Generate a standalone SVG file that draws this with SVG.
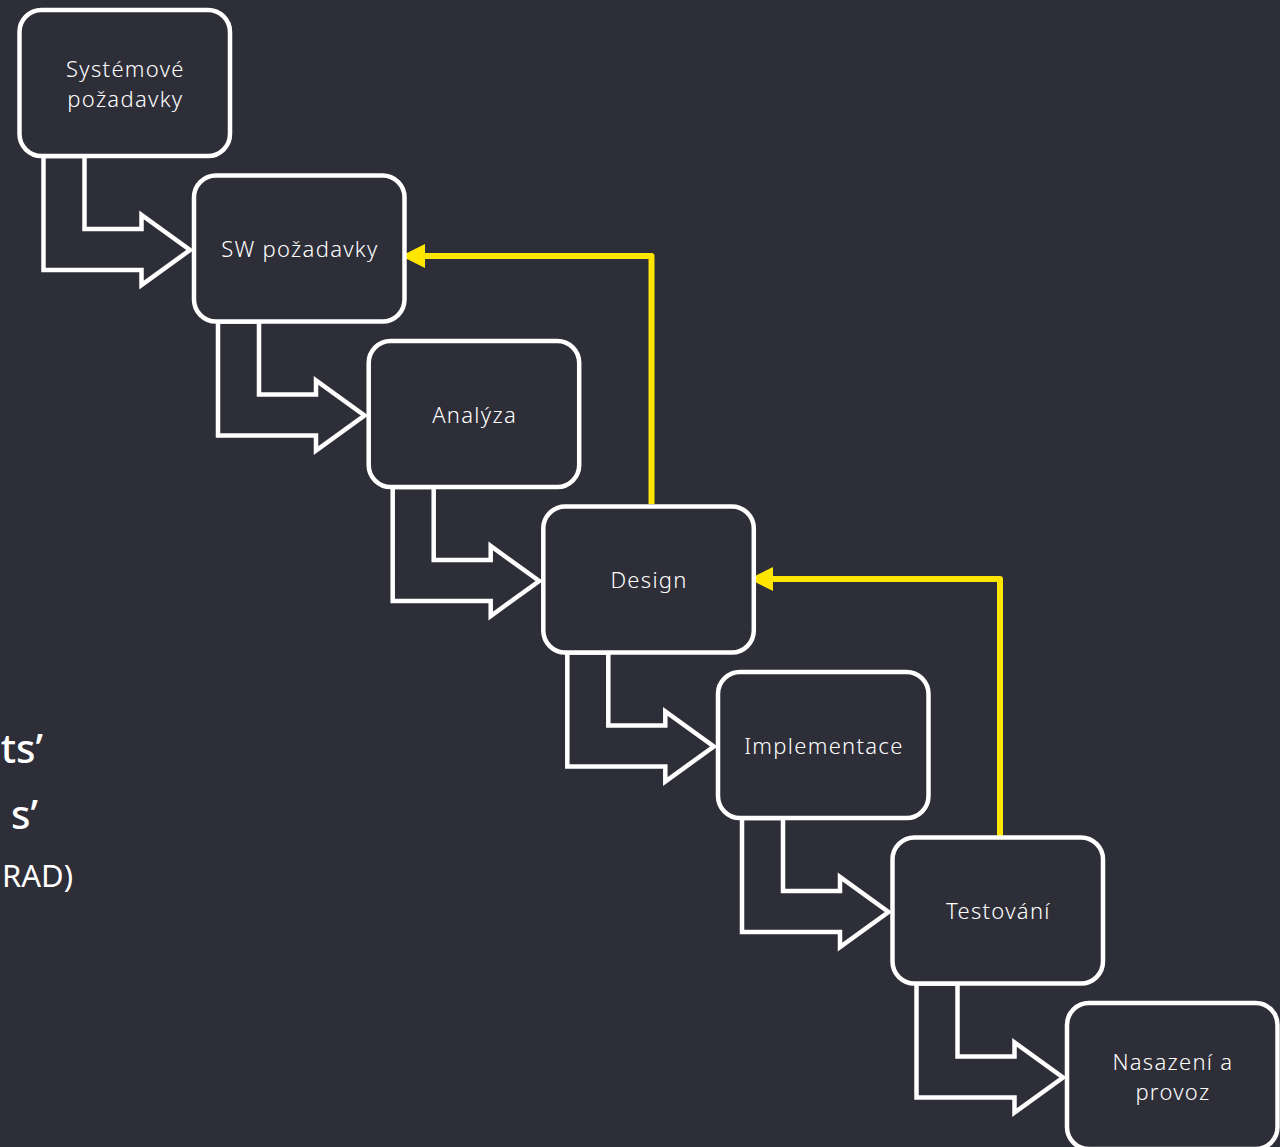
<svg xmlns="http://www.w3.org/2000/svg" width="1280" height="1147" viewBox="0 0 1280 1147">
<defs>
<style>
.bg{fill:#2e2e38}
.box{fill:#2e2e38;stroke:#ffffff;stroke-width:4.5}
.flow{fill:none;stroke:#ffffff;stroke-width:4.5;stroke-linejoin:miter}
.fb{fill:none;stroke:#ffe600;stroke-width:6;stroke-linejoin:round}
.lbl{font-family:"Noto Sans","Open Sans",sans-serif;font-size:22px;font-weight:300;fill:#ffffff;text-anchor:middle;letter-spacing:1.3px}
.side{font-family:"Noto Sans","Open Sans",sans-serif;fill:#ffffff;text-anchor:end}
</style>
<marker id="ah" viewBox="0 0 24 24" refX="23" refY="12" markerWidth="24" markerHeight="24" markerUnits="userSpaceOnUse" orient="auto">
<path d="M0,0 L24,12 L0,24 Z" fill="#ffe600"/>
</marker>
</defs>
<rect class="bg" x="0" y="0" width="1280" height="1147"/>
<g id="side-text">
<text class="side" x="43" y="763" font-size="40" font-weight="500">ts’</text>
<text class="side" x="38" y="829" font-size="40" font-weight="500">s’</text>
<text class="side" x="73" y="887" font-size="31">RAD)</text>
</g>
<g id="connectors">
<path class="flow" d="M43.5,156 L84.5,156 L84.5,229 L141.5,229 L141.5,215 L190,250 L141.5,285 L141.5,270 L43.5,270 Z"/>
<path class="flow" d="M218,321.5 L259,321.5 L259,394.5 L316,394.5 L316,380.5 L364.5,415.5 L316,450.5 L316,435.5 L218,435.5 Z"/>
<path class="flow" d="M392.7,487 L433.7,487 L433.7,560 L490.7,560 L490.7,546 L539.2,581 L490.7,616 L490.7,601 L392.7,601 Z"/>
<path class="flow" d="M567.3,652.5 L608.3,652.5 L608.3,725.5 L665.3,725.5 L665.3,711.5 L713.8,746.5 L665.3,781.5 L665.3,766.5 L567.3,766.5 Z"/>
<path class="flow" d="M742,818 L783,818 L783,891 L840,891 L840,877 L888.5,912 L840,947 L840,932 L742,932 Z"/>
<path class="flow" d="M916.5,983.5 L957.5,983.5 L957.5,1056.5 L1014.5,1056.5 L1014.5,1042.5 L1063,1077.5 L1014.5,1112.5 L1014.5,1097.5 L916.5,1097.5 Z"/>
<path class="fb" d="M651.5,504 L651.5,256 L402,256" marker-end="url(#ah)"/>
<path class="fb" d="M1000,836 L1000,579 L750,579" marker-end="url(#ah)"/>
</g>
<g id="n1"><rect class="box" x="19.5" y="10" width="210.5" height="146" rx="22"/><text class="lbl" x="125.4" y="77">Systémové</text><text class="lbl" x="125.4" y="107">požadavky</text></g>
<g id="n2"><rect class="box" x="194" y="175.5" width="210.5" height="146" rx="22"/><text class="lbl" x="299.9" y="257">SW požadavky</text></g>
<g id="n3"><rect class="box" x="368.7" y="341" width="210.5" height="146" rx="22"/><text class="lbl" x="474.6" y="422.5">Analýza</text></g>
<g id="n4"><rect class="box" x="543.3" y="506.5" width="210.5" height="146" rx="22"/><text class="lbl" x="649.1" y="588">Design</text></g>
<g id="n5"><rect class="box" x="718" y="672" width="210.5" height="146" rx="22"/><text class="lbl" x="823.9" y="753.5">Implementace</text></g>
<g id="n6"><rect class="box" x="892.5" y="837.5" width="210.5" height="146" rx="22"/><text class="lbl" x="998.4" y="919">Testování</text></g>
<g id="n7"><rect class="box" x="1067" y="1003" width="210.5" height="146" rx="22"/><text class="lbl" x="1172.9" y="1070">Nasazení a</text><text class="lbl" x="1172.9" y="1100">provoz</text></g>
</svg>
